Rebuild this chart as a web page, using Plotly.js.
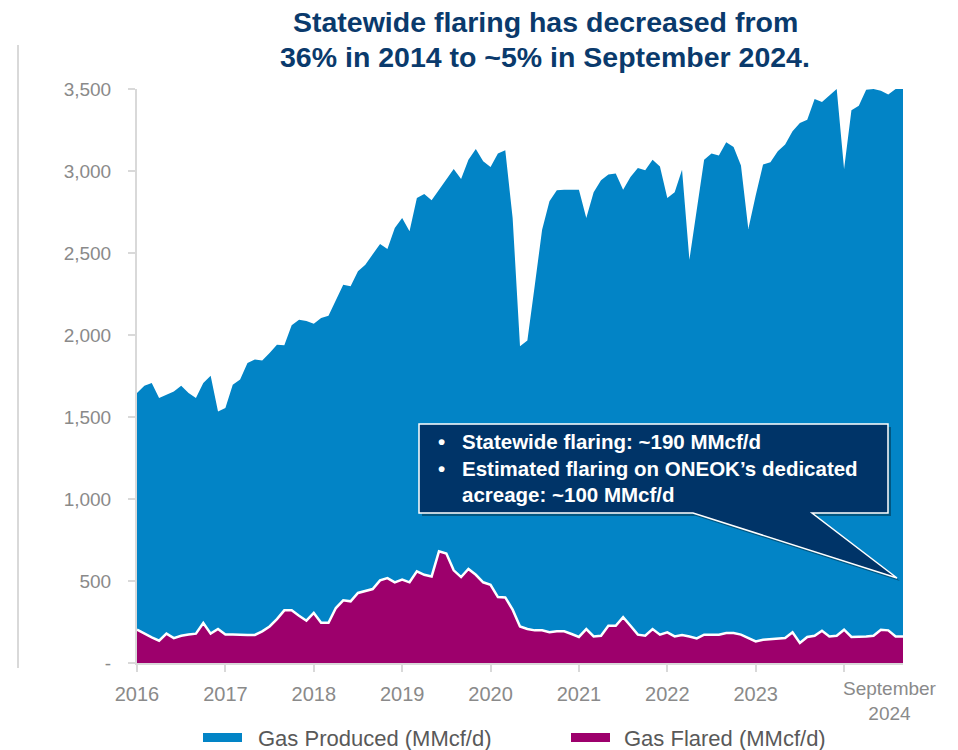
<!DOCTYPE html>
<html>
<head>
<meta charset="utf-8">
<script src="https://cdn.plot.ly/plotly-3.0.1.min.js"></script>
<style>
  html, body { margin: 0; padding: 0; background: #ffffff; }
  #chart { width: 958px; height: 750px; }
</style>
</head>
<body>
<div id="chart"></div>
<script>
// Month index: 0 = Jan 2016 ... 104 = Sep 2024
const months = Array.from({length: 105}, (_, i) => i);

// Gas Produced (MMcf/d), monthly (values above 3,500 are clipped at the top)
const gasProduced = [
  1647, 1691, 1707, 1616, 1636, 1656, 1691, 1647, 1616, 1707, 1752, 1534,
  1555, 1697, 1728, 1829, 1850, 1845, 1890, 1941, 1937, 2059, 2093, 2085,
  2069, 2104, 2118, 2215, 2307, 2297, 2388, 2429, 2490, 2555, 2524, 2653,
  2714, 2632, 2836, 2860, 2821, 2886, 2950, 3012, 2951, 3069, 3134, 3059,
  3025, 3106, 3126, 2714, 1931, 1967, 2300, 2642, 2815, 2882, 2886, 2886,
  2886, 2714, 2870, 2943, 2978, 2984, 2886, 2964, 3018, 3004, 3069, 3028,
  2836, 2870, 3008, 2459, 2780, 3069, 3106, 3094, 3175, 3147, 3033, 2647,
  2850, 3039, 3053, 3120, 3161, 3242, 3293, 3313, 3439, 3421, 3460, 3500,
  3012, 3370, 3398, 3496, 3500, 3490, 3466, 3500, 3500
];

// Gas Flared (MMcf/d), monthly
const gasFlared = [
  203, 177, 156, 136, 179, 152, 166, 174, 179, 244, 179, 207,
  174, 174, 171, 171, 171, 193, 223, 268, 321, 321, 288, 258,
  305, 245, 245, 335, 382, 376, 427, 437, 451, 504, 518, 492,
  508, 492, 559, 538, 528, 681, 667, 565, 524, 573, 538, 492,
  477, 402, 400, 325, 223, 207, 199, 199, 187, 193, 193, 177,
  159, 207, 162, 166, 227, 227, 280, 227, 173, 166, 207, 173,
  187, 162, 171, 162, 150, 173, 173, 173, 183, 183, 173, 152,
  132, 142, 146, 146, 152, 187, 122, 159, 166, 197, 162, 166,
  203, 159, 159, 162, 166, 203, 199, 162, 162
];

// Axis ticks
const xTickVals = [0, 12, 24, 36, 48, 60, 72, 84, 96];
const xTickText = ['2016', '2017', '2018', '2019', '2020', '2021', '2022', '2023', ''];
const yTickVals = [0, 500, 1000, 1500, 2000, 2500, 3000, 3500];
const yTickText = ['-', '500', '1,000', '1,500', '2,000', '2,500', '3,000', '3,500'];

const seriesNames = ['Gas Produced (MMcf/d)', 'Gas Flared (MMcf/d)'];
const titleLines = ['Statewide flaring has decreased from', '36% in 2014 to ~5% in September 2024.'];
const calloutLines = [
  'Statewide flaring: ~190 MMcf/d',
  'Estimated flaring on ONEOK\u2019s dedicated',
  'acreage: ~100 MMcf/d'
];
const lastTickLabel = 'September<br>2024';

// ---- layout geometry (pixels) ----
const W = 958, H = 750;
const M = {l: 137, r: 55, t: 89, b: 87};
const PW = W - M.l - M.r, PH = H - M.t - M.b;
const px = x => (x - M.l) / PW;          // pixel -> paper x
const py = y => (H - M.b - y) / PH;      // pixel -> paper y

const BLUE = '#0284C6';
const MAGENTA = '#9D006C';
const NAVY = '#0A3A6C';
const AXIS = '#d9d9d9';
const FONT = 'Liberation Sans, Arial, sans-serif';

const traces = [
  {
    x: months, y: gasProduced, name: seriesNames[0],
    type: 'scatter', mode: 'lines', fill: 'tozeroy',
    fillcolor: BLUE, line: {width: 0, color: BLUE},
    hoverinfo: 'skip', showlegend: false
  },
  {
    x: months, y: gasFlared, name: seriesNames[1],
    type: 'scatter', mode: 'lines', fill: 'tozeroy',
    fillcolor: MAGENTA, line: {width: 2.5, color: '#ffffff'},
    hoverinfo: 'skip', showlegend: false
  }
];

function pathFromPixels(pts) {
  return 'M' + pts.map(p => px(p[0]).toFixed(5) + ',' + py(p[1]).toFixed(5)).join(' L') + ' Z';
}

const calloutPts = [[419, 424], [888, 424], [888, 513], [812, 513], [897, 578], [693, 513], [419, 513]];
const shadowPts = calloutPts.map(p => [p[0] + 3, p[1] + 3]);

const shapes = [
  // slide decoration line at far left
  {type: 'line', xref: 'paper', yref: 'paper', x0: px(18), x1: px(18), y0: py(45), y1: py(668),
   line: {color: AXIS, width: 2}},
  // callout shadow
  {type: 'path', xref: 'paper', yref: 'paper', path: pathFromPixels(shadowPts),
   fillcolor: 'rgba(0,0,0,0.35)', line: {width: 0}},
  // callout box with tail
  {type: 'path', xref: 'paper', yref: 'paper', path: pathFromPixels(calloutPts),
   fillcolor: '#003468', line: {color: '#ffffff', width: 1.5}},
  // legend swatches
  {type: 'rect', xref: 'paper', yref: 'paper', x0: px(203), x1: px(242), y0: py(742), y1: py(733),
   fillcolor: BLUE, line: {width: 0}},
  {type: 'rect', xref: 'paper', yref: 'paper', x0: px(571), x1: px(610), y0: py(742), y1: py(733),
   fillcolor: MAGENTA, line: {width: 0}}
];

const cFont = {family: FONT, size: 20.5, color: '#ffffff', weight: 'bold'};
const tFont = {family: FONT, size: 28.5, color: NAVY, weight: 'bold'};
const annotations = [
  // title lines
  {xref: 'paper', yref: 'paper', x: px(545), y: py(22), text: titleLines[0], showarrow: false,
   xanchor: 'center', yanchor: 'middle', font: tFont},
  {xref: 'paper', yref: 'paper', x: px(545), y: py(57), text: titleLines[1], showarrow: false,
   xanchor: 'center', yanchor: 'middle', font: tFont},
  // callout text
  {xref: 'paper', yref: 'paper', x: px(436), y: py(441), text: '\u2022', showarrow: false,
   xanchor: 'left', yanchor: 'middle', font: cFont},
  {xref: 'paper', yref: 'paper', x: px(436), y: py(468), text: '\u2022', showarrow: false,
   xanchor: 'left', yanchor: 'middle', font: cFont},
  {xref: 'paper', yref: 'paper', x: px(460), y: py(441), text: calloutLines[0], showarrow: false,
   xanchor: 'left', yanchor: 'middle', font: cFont},
  {xref: 'paper', yref: 'paper', x: px(460), y: py(468), text: calloutLines[1], showarrow: false,
   xanchor: 'left', yanchor: 'middle', font: cFont},
  {xref: 'paper', yref: 'paper', x: px(460), y: py(494), text: calloutLines[2], showarrow: false,
   xanchor: 'left', yanchor: 'middle', font: cFont},
  // last x label
  {xref: 'paper', yref: 'paper', x: px(890), y: py(676), text: lastTickLabel, showarrow: false,
   xanchor: 'center', yanchor: 'top', font: {family: FONT, size: 19, color: '#8a8a8a'}},
  // legend texts
  {xref: 'paper', yref: 'paper', x: px(256), y: py(738), text: seriesNames[0], showarrow: false,
   xanchor: 'left', yanchor: 'middle', font: {family: FONT, size: 22, color: '#595959'}},
  {xref: 'paper', yref: 'paper', x: px(622), y: py(738), text: seriesNames[1], showarrow: false,
   xanchor: 'left', yanchor: 'middle', font: {family: FONT, size: 22, color: '#595959'}}
];

const layout = {
  width: W, height: H,
  margin: M,
  paper_bgcolor: '#ffffff', plot_bgcolor: '#ffffff',
  showlegend: false,
  xaxis: {
    range: [0, 104], tickmode: 'array', tickvals: xTickVals, ticktext: xTickText,
    showgrid: false, zeroline: false, showline: true, linecolor: AXIS, linewidth: 2,
    ticks: 'outside', ticklen: 7, tickwidth: 2, tickcolor: AXIS,
    ticklabelstandoff: 5,
    tickfont: {family: FONT, size: 20, color: '#8a8a8a'}, fixedrange: true
  },
  yaxis: {
    range: [0, 3500], tickmode: 'array', tickvals: yTickVals, ticktext: yTickText,
    showgrid: false, zeroline: false, showline: true, linecolor: AXIS, linewidth: 2,
    ticks: 'outside', ticklen: 7, tickwidth: 2, tickcolor: AXIS,
    ticklabelstandoff: 13,
    tickfont: {family: FONT, size: 19, color: '#8a8a8a'}, fixedrange: true
  },
  shapes: shapes,
  annotations: annotations
};

Plotly.newPlot('chart', traces, layout, {staticPlot: true, displayModeBar: false});
</script>
</body>
</html>
